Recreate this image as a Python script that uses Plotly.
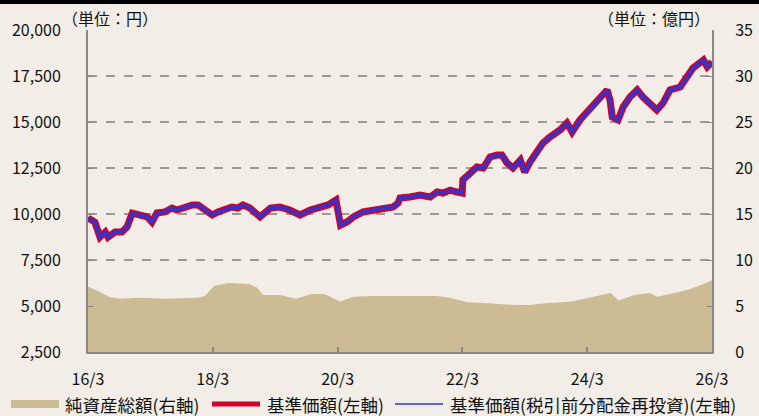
import plotly.graph_objects as go

# 基準価額 (円)
price_dates = ["2016-03-01","2016-04-10","2016-05-10","2016-06-10","2016-06-26","2016-08-06","2016-09-15","2016-10-15","2016-11-15","2016-12-18",
               "2017-02-10","2017-03-10","2017-04-08","2017-05-24","2017-07-05","2017-08-03","2017-09-20","2017-11-01","2017-12-05",
               "2018-01-15","2018-02-26","2018-04-01","2018-05-10","2018-06-20","2018-07-26","2018-08-25","2018-10-05","2018-12-03",
               "2019-02-01","2019-03-28","2019-05-26","2019-07-25","2019-09-22","2019-11-18","2020-01-05","2020-02-20","2020-03-05",
               "2020-03-18","2020-04-25","2020-06-01","2020-07-28","2020-09-25","2020-11-22","2021-01-20","2021-02-18","2021-03-01",
               "2021-04-28","2021-06-26","2021-08-25","2021-10-04","2021-11-08","2021-12-20","2022-01-30","2022-02-28","2022-03-04",
               "2022-04-15","2022-05-25","2022-07-01","2022-08-10","2022-09-20","2022-10-18","2022-11-18","2022-12-22","2023-02-03",
               "2023-03-01","2023-04-01","2023-05-10","2023-06-15","2023-07-26","2023-09-24","2023-11-03","2023-12-03","2024-01-18",
               "2024-03-15","2024-04-27","2024-06-25","2024-07-12","2024-07-25","2024-08-28","2024-09-27","2024-11-06","2024-12-18",
               "2025-01-21","2025-03-03","2025-04-12","2025-05-18","2025-06-28","2025-08-26","2025-10-06","2025-11-10","2026-01-10",
               "2026-02-01","2026-03-01"]
price_values = [9780,9560,8750,9020,8750,9020,9020,9290,10050,9945,
                9840,9565,10050,10110,10325,10215,10380,10490,10490,
                10215,9945,10110,10215,10380,10325,10490,10325,9840,
                10325,10380,10215,9945,10215,10380,10490,10760,10050,
                9400,9565,9840,10110,10215,10325,10380,10600,10870,
                10925,11030,10925,11195,11140,11300,11195,11140,11850,
                12230,12555,12500,13100,13200,13200,12770,12500,12935,
                12280,12830,13310,13860,14185,14565,14945,14455,15110,
                15650,16090,16740,16200,15270,15110,15815,16360,16740,
                16360,16030,15650,16030,16740,16900,17390,17935,18370,
                18000,18260]
# 基準価額(税引前分配金再投資) - identical to 基準価額 on the chart (no distributions)
reinvest_values = list(price_values)

# 純資産総額 (億円)
asset_dates = ["2016-03-01","2016-05-01","2016-07-01","2016-09-01","2017-01-01","2017-06-01","2017-12-01","2018-01-15",
               "2018-03-10","2018-06-01","2018-10-01","2018-11-15","2018-12-20","2019-04-01","2019-07-01","2019-10-01",
               "2019-12-15","2020-03-15","2020-06-01","2020-10-01","2021-03-01","2021-10-01","2021-12-20","2022-04-01",
               "2022-08-01","2023-01-01","2023-04-01","2023-07-01","2023-12-01","2024-06-01","2024-07-15","2024-09-01",
               "2024-12-01","2025-03-01","2025-04-15","2025-06-01","2025-10-01","2025-12-15","2026-03-01"]
asset_values = [7.1,6.6,6.0,5.8,5.9,5.8,5.9,6.1,
                7.2,7.5,7.4,7.0,6.2,6.2,5.8,6.3,
                6.3,5.5,6.0,6.1,6.1,6.1,5.9,5.4,
                5.3,5.1,5.1,5.3,5.5,6.2,6.4,5.6,
                6.2,6.4,6.0,6.2,6.7,7.2,7.8]

left_ticks = [2500, 5000, 7500, 10000, 12500, 15000, 17500, 20000]
right_ticks = [0, 5, 10, 15, 20, 25, 30, 35]
x_tick_dates = ["2016-03-01","2018-03-01","2020-03-01","2022-03-01","2024-03-01","2026-03-01"]
x_tick_labels = ["16/3","18/3","20/3","22/3","24/3","26/3"]
series_names = ["純資産総額(右軸)", "基準価額(左軸)", "基準価額(税引前分配金再投資)(左軸)"]

FONT = "Liberation Sans Narrow, Noto Sans CJK JP, sans-serif"
JFONT = "Noto Sans CJK JP"
BG = "#F2EEE7"
C_AREA, C_RED, C_BLUE = "#CDBB94", "#D0002B", "#3333CC"

# pixel helpers for the plot area (l=88, t=30, w=624, h=322)
def px(x):
    return (x - 88) / 624.0

def py(y):
    return (352 - y) / 322.0

fig = go.Figure()
fig.add_trace(go.Scatter(x=asset_dates, y=asset_values, yaxis="y2", mode="lines",
                         line=dict(width=0, color=C_AREA), fill="tozeroy",
                         fillcolor=C_AREA, name=series_names[0]))
fig.add_trace(go.Scatter(x=price_dates, y=price_values, mode="lines",
                         line=dict(color=C_RED, width=7), name=series_names[1]))
fig.add_trace(go.Scatter(x=price_dates, y=reinvest_values, mode="lines",
                         line=dict(color=C_BLUE, width=3.5), name=series_names[2]))

legend_y = 404
legend_shapes = [
    dict(type="rect", xref="paper", yref="paper", x0=px(11), x1=px(59), y0=py(legend_y + 4), y1=py(legend_y - 4),
         fillcolor=C_AREA, line=dict(width=0)),
    dict(type="line", xref="paper", yref="paper", x0=px(212), x1=px(260), y0=py(legend_y), y1=py(legend_y),
         line=dict(color=C_RED, width=5)),
    dict(type="line", xref="paper", yref="paper", x0=px(395), x1=px(443), y0=py(legend_y), y1=py(legend_y),
         line=dict(color=C_BLUE, width=1.5)),
    dict(type="rect", xref="paper", yref="paper", x0=-0.2, x1=1.2, y0=py(4), y1=py(-20),
         fillcolor="#000", line=dict(width=0), layer="above"),
]
legend_texts = [
    dict(text=series_names[0], x=px(63)),
    dict(text=series_names[1], x=px(265)),
    dict(text=series_names[2], x=px(448)),
]
annotations = [
    dict(text="（単位：円）", xref="paper", yref="paper", x=-0.045, y=1.0, xanchor="left", yanchor="bottom",
         showarrow=False, font=dict(family=JFONT, size=16, color="#111"), yshift=-2),
    dict(text="（単位：億円）", xref="paper", yref="paper", x=1.0, y=1.0, xanchor="right", yanchor="bottom",
         showarrow=False, font=dict(family=JFONT, size=16, color="#111"), yshift=-2),
]
for t in legend_texts:
    annotations.append(dict(text=t["text"], xref="paper", yref="paper", x=t["x"], y=py(legend_y),
                            xanchor="left", yanchor="middle", showarrow=False,
                            font=dict(family=JFONT, size=17.5, color="#111")))

fig.update_layout(
    width=759, height=416,
    margin=dict(l=88, r=47, t=30, b=64, autoexpand=False),
    paper_bgcolor=BG, plot_bgcolor=BG,
    font=dict(family=FONT, size=16, color="#111"),
    xaxis=dict(type="date", range=["2016-03-01", "2026-03-01"], tickvals=x_tick_dates, ticktext=x_tick_labels,
               showgrid=False, showline=True, linecolor="#888", linewidth=2, ticks="inside", ticklen=5,
               tickcolor="#888", tickwidth=1.5, ticklabelstandoff=12, automargin=False),
    yaxis=dict(range=[2500, 20000], tickvals=left_ticks, tickformat=",", showgrid=True,
               gridcolor="#999", griddash="dash", gridwidth=1.5, showline=True, linecolor="#888", linewidth=2,
               ticks="inside", ticklen=5, tickcolor="#888", ticklabelstandoff=22, zeroline=False, automargin=False),
    yaxis2=dict(range=[0, 35], tickvals=right_ticks, overlaying="y", side="right", showgrid=False,
                showline=True, linecolor="#888", linewidth=2, ticks="inside", ticklen=5, tickcolor="#888",
                ticklabelstandoff=18, zeroline=False, automargin=False),
    showlegend=False,
    annotations=annotations,
    shapes=legend_shapes,
)

fig.write_html("out.html", config={"displayModeBar": False},
               post_script="document.body.style.margin='0';document.body.style.overflow='hidden';")
